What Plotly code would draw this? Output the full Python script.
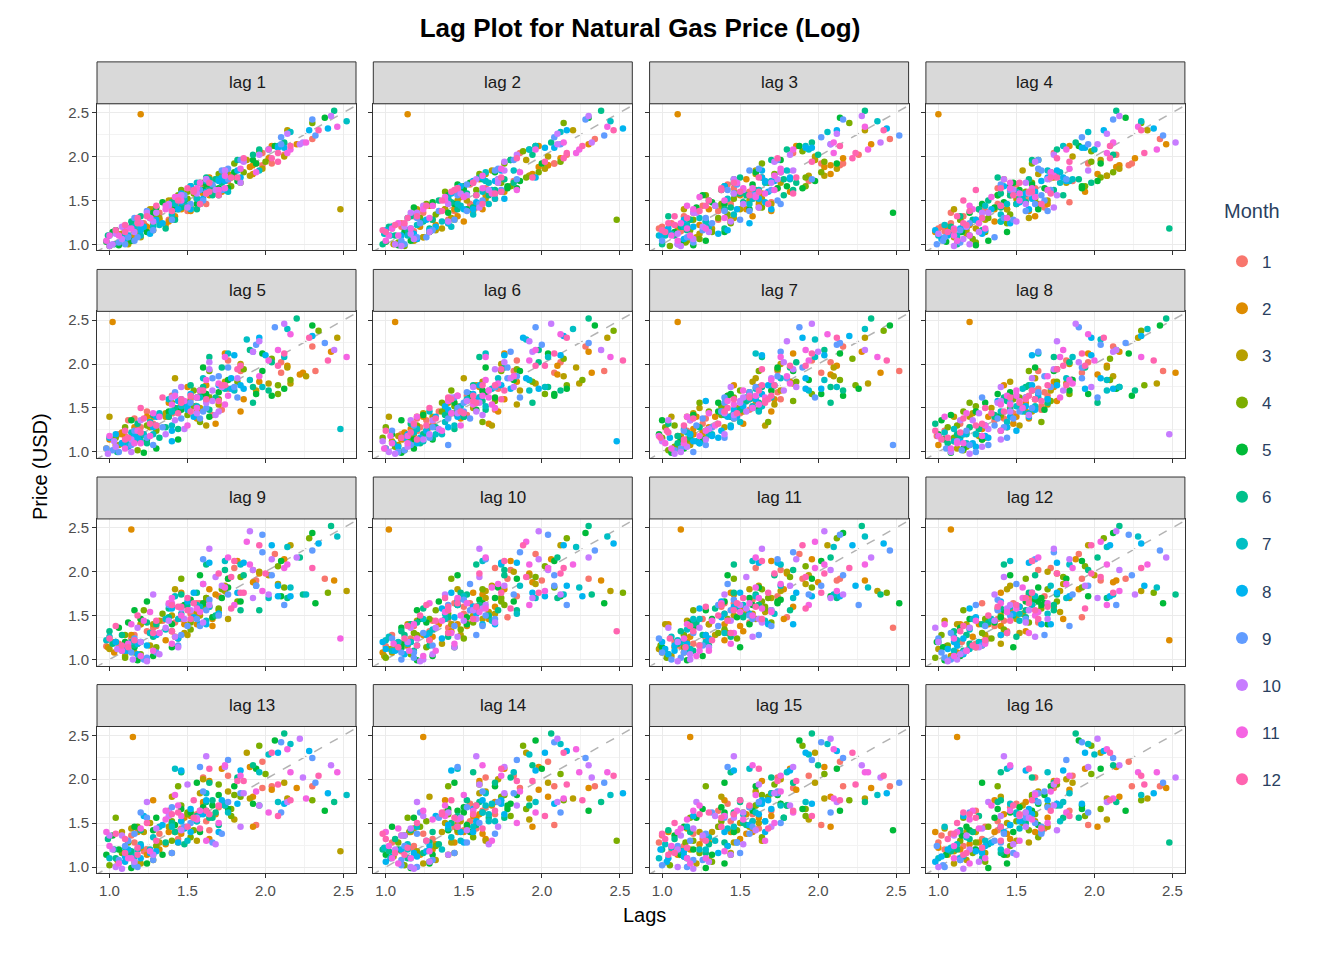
import plotly.graph_objects as go

# monthly log natural gas price series (read/estimated from the picture), Jan..Dec per row
price = [
    1.05, 1.12, 1.00, 0.98, 1.03, 1.00, 1.10, 1.16, 1.04, 1.12, 1.18, 1.24,
    1.15, 1.08, 1.12, 1.02, 1.14, 1.20, 1.10, 1.06, 1.02, 1.00, 1.10, 1.14,
    1.20, 2.48, 1.40, 1.28, 1.36, 1.18, 1.26, 1.12, 1.08, 1.20, 1.24, 1.32,
    1.36, 1.22, 1.18, 1.30, 1.42, 1.28, 1.20, 1.16, 1.30, 1.36, 1.44, 1.50,
    1.38, 1.26, 1.40, 1.46, 1.56, 1.40, 1.34, 1.24, 1.38, 1.44, 1.54, 1.62,
    1.46, 1.40, 1.50, 1.52, 1.66, 1.58, 1.46, 1.48, 1.56, 1.58, 1.70, 1.56,
    1.52, 1.38, 1.50, 1.60, 1.62, 1.76, 1.60, 1.52, 1.46, 1.56, 1.64, 1.70,
    1.60, 1.58, 1.46, 1.62, 1.68, 1.74, 1.62, 1.60, 1.50, 1.42, 1.54, 1.60,
    1.68, 1.74, 1.84, 1.70, 1.64, 1.62, 1.72, 1.76, 1.86, 1.94, 1.82, 1.76,
    1.72, 1.60, 1.70, 1.80, 1.82, 1.96, 1.84, 1.76, 1.74, 1.84, 1.86, 1.98,
    2.04, 2.12, 2.00, 1.94, 1.92, 2.02, 2.08, 2.10, 2.22, 2.14, 2.04, 1.98,
    1.90, 1.88, 1.96, 2.06, 2.12, 2.16, 2.28, 2.30, 2.42, 2.46, 2.34, 2.30,
    2.20, 2.14, 2.30, 2.38, 2.44, 2.52, 2.40, 2.32, 2.24, 2.16, 2.08, 2.04,
    1.92, 1.90, 1.78, 1.76, 1.64, 1.74, 1.82, 1.84, 1.96, 2.02, 2.08, 1.94,
    1.92, 1.80, 1.78, 1.66, 1.66, 1.56, 1.70, 1.72, 1.84, 1.70, 1.62, 1.58,
    1.48, 1.46, 1.54, 1.58, 1.70, 1.56, 1.52, 1.40, 1.38, 1.46, 1.50, 1.64,
    1.64, 1.56, 1.52, 1.42, 1.40, 1.48, 1.52, 1.66, 1.68, 1.62, 1.58, 1.46,
    1.42, 1.32, 1.30, 1.34, 1.48, 1.50, 1.44, 1.40, 1.28, 1.26, 1.30, 1.44,
    1.44, 1.40, 1.28, 1.24, 1.14, 1.26, 1.30, 1.28, 1.16, 1.14, 1.18, 1.30,
    1.32, 1.28, 1.16, 1.14, 1.04, 1.16, 1.20, 1.18, 1.08, 1.06, 1.10, 1.22,
    1.24, 1.20, 1.08, 1.06, 0.99, 1.10, 1.12, 1.10, 1.00, 0.98, 1.04, 1.16,
    1.18, 1.14, 1.04, 1.16, 1.20, 1.32, 1.22, 1.20, 1.24, 1.36, 1.40, 1.38,
    1.28, 1.40, 1.44, 1.56, 1.46, 1.42, 1.46, 1.58, 1.62, 1.74, 1.64, 1.60,
    1.64, 1.76, 1.80, 1.92, 1.96, 2.08, 2.12, 2.10, 2.14, 2.26, 2.16, 2.12,
    2.02, 1.98, 1.86, 1.82, 1.72, 1.70, 1.74, 1.72, 1.62, 1.74, 1.78, 1.76,
]
month = [i % 12 + 1 for i in range(len(price))]
lags = list(range(1, 17))
month_colors = ["#F8766D", "#DE8C00", "#B79F00", "#7CAE00", "#00BA38", "#00C08B",
                "#00BFC4", "#00B4F0", "#619CFF", "#C77CFF", "#F564E3", "#FF64B0"]
ticks = [1.0, 1.5, 2.0, 2.5]

W, H = 1344, 960
OFF = 8  # page body margin
L, R, T = 97 - OFF, 160, 62 - OFF
pw, gx = 259, 17.3
strip, ph, gy = 42, 147, 19

fig = go.Figure()
shapes, annos = [], []
for k, lag in enumerate(lags):
    r, c = divmod(k, 4)
    n = k + 1
    xa, ya = ("x", "y") if n == 1 else (f"x{n}", f"y{n}")
    x0 = (L + c * (pw + gx)) / W
    x1 = (L + c * (pw + gx) + pw) / W
    top = T + r * (strip + ph + gy)
    y1 = 1 - (top + strip) / H
    y0 = 1 - (top + strip + ph) / H
    for m in range(1, 13):
        xs = [price[i - lag] for i in range(lag, len(price)) if month[i] == m]
        ys = [price[i] for i in range(lag, len(price)) if month[i] == m]
        fig.add_trace(go.Scatter(x=xs, y=ys, mode="markers", xaxis=xa, yaxis=ya,
                                 name=str(m), legendgroup=str(m), showlegend=(k == 0),
                                 marker=dict(color=month_colors[m - 1], size=6.5)))
    axkw = dict(showline=True, mirror=True, linecolor="#333333", linewidth=1,
                showgrid=True, gridcolor="#EBEBEB", zeroline=False,
                minor=dict(showgrid=True, gridcolor="#F3F3F3", dtick=0.25),
                tickvals=ticks, ticks="outside", tickcolor="#333333", ticklen=4,
                tickfont=dict(size=15, color="#4D4D4D"), range=[0.92, 2.58])
    xkw = dict(axkw, domain=[x0, x1], anchor=ya, showticklabels=(r == 3),
               tickformat=".1f")
    ykw = dict(axkw, domain=[y0, y1], anchor=xa, showticklabels=(c == 0),
               tickformat=".1f", range=[0.93, 2.6])
    fig.update_layout(**{("xaxis" if n == 1 else f"xaxis{n}"): xkw,
                         ("yaxis" if n == 1 else f"yaxis{n}"): ykw})
    shapes.append(dict(type="line", xref=xa, yref=ya, x0=0, y0=0, x1=3, y1=3,
                       line=dict(color="#B3B3B3", dash="dash", width=1.5), layer="below"))
    shapes.append(dict(type="rect", xref="paper", yref="paper", x0=x0, x1=x1,
                       y0=y1, y1=1 - top / H, fillcolor="#D9D9D9",
                       line=dict(color="#333333", width=1)))
    annos.append(dict(text=f"lag {lag}", xref="paper", yref="paper",
                      x=(x0 + x1) / 2, y=1 - (top + strip / 2) / H, showarrow=False,
                      yanchor="middle", font=dict(size=17, color="#1A1A1A")))

annos.append(dict(text="Lags", xref="paper", yref="paper", x=(L + (W - R - L) / 2) / W,
                  y=1 - (930 - OFF) / H, showarrow=False, font=dict(size=20, color="black")))
annos.append(dict(text="Price (USD)", xref="paper", yref="paper", x=(27 - OFF) / W,
                  y=1 - (468 - OFF) / H, showarrow=False, textangle=-90,
                  font=dict(size=20, color="black")))

fig.update_layout(
    width=W, height=H, plot_bgcolor="white", paper_bgcolor="white",
    margin=dict(l=0, r=0, t=0, b=0),
    font=dict(family="Liberation Sans, Arial, sans-serif"),
    title=dict(text="<b>Lag Plot for Natural Gas Price (Log)</b>", x=(640 - OFF) / W,
               y=1 - (28 - OFF) / H, xanchor="center", yanchor="middle",
               font=dict(size=26, color="black")),
    shapes=shapes, annotations=annos,
    legend=dict(title=dict(text="Month<br>", font=dict(size=20)), x=(1222 - OFF) / W,
                y=1 - (192 - OFF) / H, yanchor="top", font=dict(size=17),
                itemsizing="constant", tracegroupgap=22),
)
fig.write_html("out.html")
